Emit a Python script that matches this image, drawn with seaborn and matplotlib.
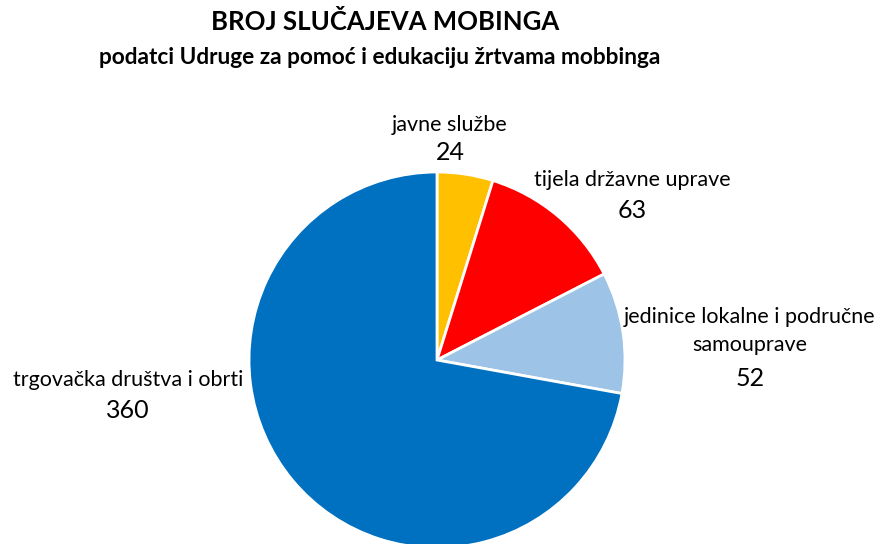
import matplotlib
matplotlib.use('Agg')
import matplotlib.pyplot as plt
import seaborn as sns

# ------------------------
# Podaci
# ------------------------
categories = ["javne službe", "tijela državne uprave",
              "jedinice lokalne i područne\nsamouprave", "trgovačka društva i obrti"]
values = [24, 63, 52, 360]
colors = ["#FFC000", "#FF0000", "#9DC3E6", "#0070C0"]

title = "BROJ SLUČAJEVA MOBINGA"
subtitle = "podatci Udruge za pomoć i edukaciju žrtvama mobbinga"

# ------------------------
# Stil
# ------------------------
sns.set_theme(style="white")
plt.rcParams['font.family'] = ['Lato', 'DejaVu Sans']
plt.rcParams['text.color'] = 'black'

W, H = 885, 544
fig = plt.figure(figsize=(W / 100, H / 100), dpi=100)

# pie centre and radius in pixels
cx, cy, r = 437, 360, 188
ax = fig.add_axes([(cx - r) / W, (H - cy - r) / H, 2 * r / W, 2 * r / H])
ax.pie(values, colors=colors, startangle=90, counterclock=False,
       wedgeprops=dict(edgecolor="white", linewidth=2))
ax.set_xlim(-1, 1)
ax.set_ylim(-1, 1)
ax.set_aspect('equal')
ax.axis('off')

def px(x, y):
    return x / W, 1 - y / H

fig.text(*px(385, 22), title, ha='center', va='center', fontsize=18.5, fontweight='bold')
fig.text(*px(380, 58), subtitle, ha='center', va='center', fontsize=16.3, fontweight='bold')

# label positions (pixels) for category name and value
label_pos = [(450, 125), (632, 180), (750, 331), (128, 380)]
value_pos = [(450, 153), (632, 210), (750, 378), (128, 410)]
for cat, val, (lx, ly), (vx, vy) in zip(categories, values, label_pos, value_pos):
    fig.text(*px(lx, ly), cat, ha='center', va='center', fontsize=15.5,
             linespacing=1.5)
    fig.text(*px(vx, vy), str(val), ha='center', va='center', fontsize=18)

fig.savefig("out.png", dpi=100)
